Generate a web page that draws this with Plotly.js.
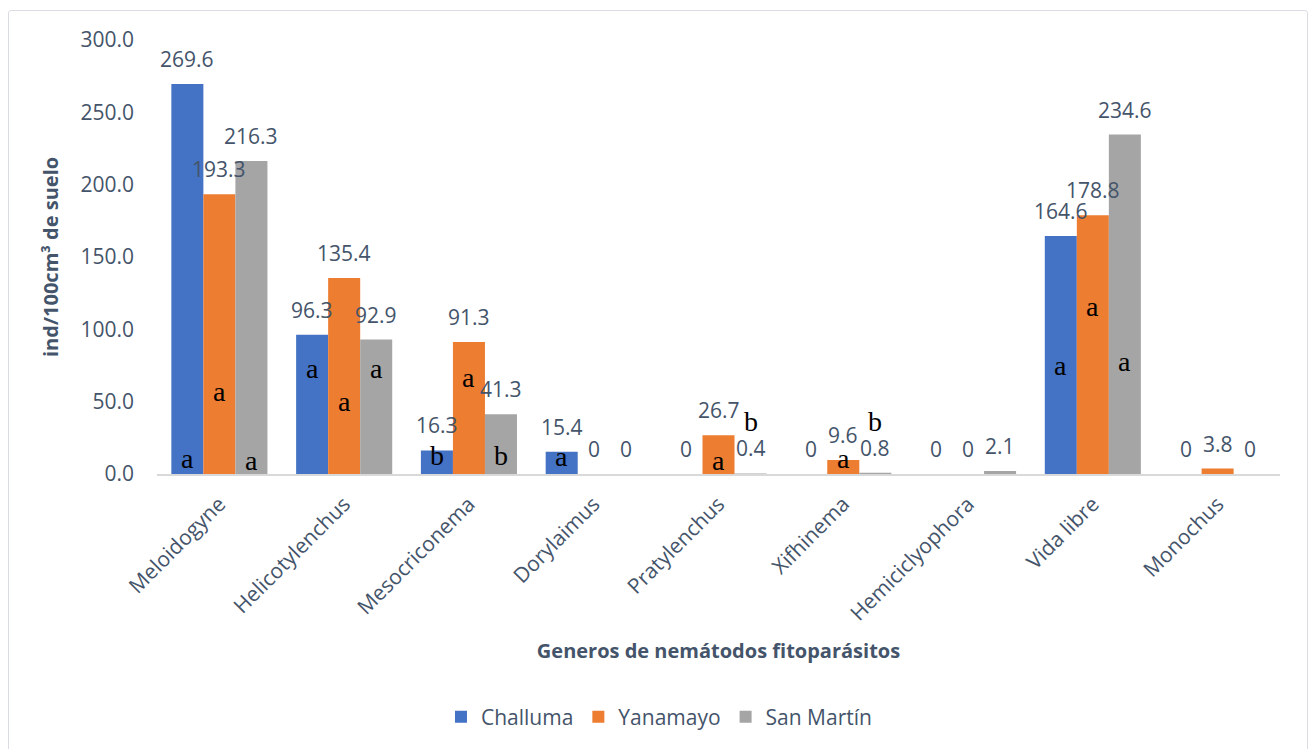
<!DOCTYPE html>
<html>
<head>
<meta charset="utf-8">
<script src="https://cdn.plot.ly/plotly-3.0.1.min.js"></script>
<style>
  html, body { margin: 0; padding: 0; background: #ffffff; }
  #frame { position: absolute; left: 8px; top: 10px; width: 1300px; height: 780px;
           border: 1.5px solid #d9dde3; border-radius: 3px; box-sizing: border-box; }
  #chart { position: absolute; left: 0; top: 0; width: 1315px; height: 749px; }
</style>
</head>
<body>
<div id="frame"></div>
<div id="chart"></div>
<script>
// ---- data ----
const categories = ['Meloidogyne', 'Helicotylenchus', 'Mesocriconema', 'Dorylaimus',
                    'Pratylenchus', 'Xifhinema', 'Hemiciclyophora', 'Vida libre', 'Monochus'];
const seriesNames = ['Challuma', 'Yanamayo', 'San Martín'];
const challuma  = [269.6, 96.3, 16.3, 15.4, 0, 0, 0, 164.6, 0];
const yanamayo  = [193.3, 135.4, 91.3, 0, 26.7, 9.6, 0, 178.8, 3.8];
const sanMartin = [216.3, 92.9, 41.3, 0, 0.4, 0.8, 2.1, 234.6, 0];

// significance letters (per series, per category)
const lettersChalluma  = ['a', 'a', 'b', 'a', '', '', '', 'a', ''];
const lettersYanamayo  = ['a', 'a', 'a', '', 'a', 'a', '', 'a', ''];
const lettersSanMartin = ['a', 'a', 'b', '', 'b', 'b', '', 'a', ''];
// vertical placement of the letters (axis units)
const letterPosChalluma  = [10.9, 73, 13, 12, 0, 0, 0, 75, 0];
const letterPosYanamayo  = [57, 50, 67, 0, 9, 11, 0, 116, 0];
const letterPosSanMartin = [9, 73, 13, 0, 36.5, 36.5, 0, 78, 0];

// ---- style ----
const colors = ['#4472C4', '#ED7D31', '#A5A5A5'];
const textColor = '#44546A';
const baseFont = 'Open Sans, Noto Sans, sans-serif';
const bargap = 0.23;

const values = [challuma, yanamayo, sanMartin];
const letters = [lettersChalluma, lettersYanamayo, lettersSanMartin];
const letterPos = [letterPosChalluma, letterPosYanamayo, letterPosSanMartin];

const traces = values.map((v, s) => ({
  type: 'bar',
  name: seriesNames[s],
  x: categories,
  y: v,
  marker: { color: colors[s] },
  hoverinfo: 'x+y+name'
}));

const barW = (1 - bargap) / 3;
const annotations = [];
values.forEach((v, s) => {
  v.forEach((val, i) => {
    annotations.push({
      xref: 'x', yref: 'y',
      x: i + (s - 1) * barW, y: val,
      text: String(val), showarrow: false,
      yanchor: 'middle', yshift: 25,
      font: { family: baseFont, size: 21, color: textColor }
    });
  });
});
letters.forEach((arr, s) => {
  arr.forEach((t, i) => {
    if (!t) return;
    annotations.push({
      xref: 'x', yref: 'y',
      x: i + (s - 1) * barW, y: letterPos[s][i],
      text: t, showarrow: false, yanchor: 'middle',
      font: { family: 'Liberation Serif, DejaVu Serif, serif', size: 28, color: '#000000' }
    });
  });
});

const layout = {
  width: 1315, height: 749,
  paper_bgcolor: 'rgba(0,0,0,0)',
  plot_bgcolor: 'rgba(0,0,0,0)',
  margin: { l: 157, r: 35, t: 40, b: 273 },
  barmode: 'group',
  bargap: bargap,
  bargroupgap: 0,
  showlegend: true,
  legend: {
    orientation: 'h', x: 0.447, xanchor: 'center', y: -0.56, yanchor: 'middle',
    font: { family: baseFont, size: 21, color: textColor }
  },
  xaxis: {
    type: 'category',
    tickangle: -45,
    showline: true, linecolor: '#d9d9d9', linewidth: 1.5,
    ticks: '', showgrid: false, zeroline: false,
    ticklabelstandoff: 8,
    tickfont: { family: baseFont, size: 21, color: textColor },
    title: { text: 'Generos de nemátodos fitoparásitos', standoff: 19,
             font: { family: baseFont, size: 20, color: textColor, weight: 'bold' } }
  },
  yaxis: {
    range: [0, 300], dtick: 50, tickformat: '.1f',
    showgrid: false, zeroline: false, showline: false, ticks: '',
    ticklabelstandoff: 22,
    tickfont: { family: baseFont, size: 21, color: textColor },
    title: { text: 'ind/100cm³ de suelo', standoff: 16,
             font: { family: baseFont, size: 20, color: textColor, weight: 'bold' } }
  },
  annotations: annotations
};

Plotly.newPlot('chart', traces, layout, { displayModeBar: false, staticPlot: true });
</script>
</body>
</html>
